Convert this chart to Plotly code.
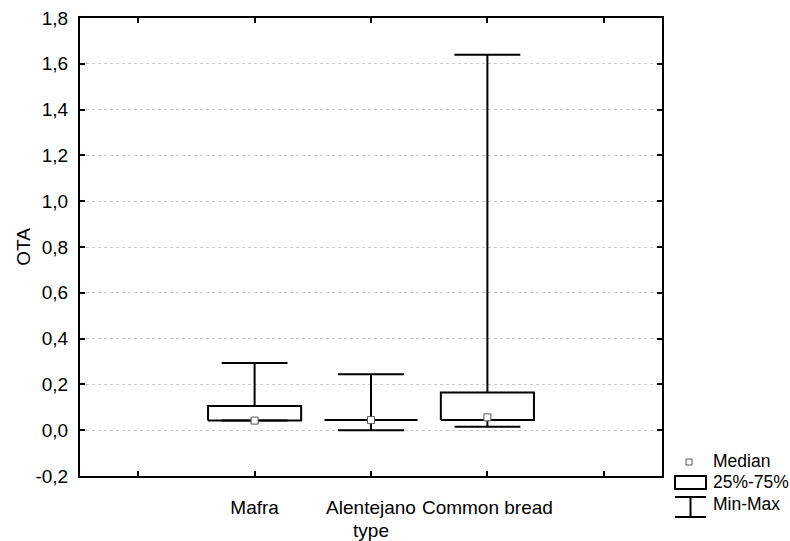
import plotly.graph_objects as go

# ---- data ----
categories = ["Mafra", "Alentejano", "Common bread"]
minimum = [0.042, 0.0, 0.015]
q1 = [0.042, 0.044, 0.044]
median = [0.042, 0.044, 0.056]
q3 = [0.106, 0.044, 0.165]
maximum = [0.293, 0.244, 1.64]
y_ticks = [-0.2, 0.0, 0.2, 0.4, 0.6, 0.8, 1.0, 1.2, 1.4, 1.6, 1.8]
legend_labels = ["Median", "25%-75%", "Min-Max"]

FONT = "Liberation Sans, Arial, sans-serif"
FS = 19
LFS = 17.5
BOX_HW = 0.40
CAP_HW = 0.283

# plot area in pixels
L, R, T, B = 80, 662, 18, 476
W, H = 790, 541


def px(xp):
    return (xp - L) / (R - L)


def py(yp):
    return (B - yp) / (B - T)


fig = go.Figure()

positions = list(range(1, len(categories) + 1))
for i, c in enumerate(positions):
    # box
    fig.add_trace(go.Scatter(
        x=[c - BOX_HW, c + BOX_HW, c + BOX_HW, c - BOX_HW, c - BOX_HW],
        y=[q1[i], q1[i], q3[i], q3[i], q1[i]],
        mode="lines", line=dict(color="black", width=2),
        hoverinfo="skip", showlegend=False))
    # whiskers
    fig.add_trace(go.Scatter(
        x=[c, c, None, c - CAP_HW, c + CAP_HW, None, c, c, None, c - CAP_HW, c + CAP_HW],
        y=[q3[i], maximum[i], None, maximum[i], maximum[i], None,
           q1[i], minimum[i], None, minimum[i], minimum[i]],
        mode="lines", line=dict(color="black", width=2),
        hoverinfo="skip", showlegend=False))

# medians
fig.add_trace(go.Scatter(
    x=positions, y=median, mode="markers",
    marker=dict(symbol="square", size=7, color="white",
                line=dict(color="#555555", width=1)),
    showlegend=False, hoverinfo="skip"))

ytext = [f"{v:.1f}".replace(".", ",") for v in y_ticks]

fig.update_layout(
    width=W, height=H,
    margin=dict(l=L, r=W - R, t=T, b=H - B, pad=0, autoexpand=False),
    paper_bgcolor="white", plot_bgcolor="white",
    font=dict(family=FONT, size=FS, color="black"),
    showlegend=False,
    xaxis=dict(
        range=[-0.5, 4.5],
        tickvals=[0] + positions + [len(categories) + 1],
        ticktext=[""] + categories + [""],
        ticks="inside", ticklen=5, tickwidth=1.5, tickcolor="black",
        showline=True, linecolor="black", linewidth=2, mirror="ticks",
        showgrid=False, zeroline=False, automargin=False,
        ticklabelstandoff=13,
        title=dict(text="type", standoff=7, font=dict(size=FS)),
    ),
    yaxis=dict(
        range=[-0.2, 1.8],
        tickvals=y_ticks, ticktext=ytext,
        ticks="inside", ticklen=5, tickwidth=1.5, tickcolor="black",
        showline=True, linecolor="black", linewidth=2, mirror="ticks",
        showgrid=True, gridcolor="#c8c8c8", griddash="dot", gridwidth=1,
        zeroline=False, automargin=False,
        ticklabelstandoff=6,
        title=dict(text="OTA", standoff=0, font=dict(size=FS)),
    ),
)

# ---- custom legend ----
shapes = []
# median symbol
shapes.append(dict(type="rect", xref="paper", yref="paper",
                   x0=px(686), x1=px(692), y0=py(465), y1=py(459),
                   line=dict(color="#555555", width=1), fillcolor="white"))
# box symbol
shapes.append(dict(type="rect", xref="paper", yref="paper",
                   x0=px(675), x1=px(706), y0=py(489), y1=py(476),
                   line=dict(color="black", width=2), fillcolor="white"))
# whisker symbol
for (x0, y0, x1, y1) in [(675, 497, 706, 497), (690.5, 497, 690.5, 517), (675, 517, 706, 517)]:
    shapes.append(dict(type="line", xref="paper", yref="paper",
                       x0=px(x0), x1=px(x1), y0=py(y0), y1=py(y1),
                       line=dict(color="black", width=2)))
fig.update_layout(shapes=shapes)

for label, yy in zip(legend_labels, [461, 482, 504]):
    fig.add_annotation(text=label, xref="paper", yref="paper",
                       x=px(712), y=py(yy), xanchor="left", yanchor="middle",
                       showarrow=False, borderpad=0,
                       font=dict(family=FONT, size=LFS, color="black"))

fig.write_html("out.html")
